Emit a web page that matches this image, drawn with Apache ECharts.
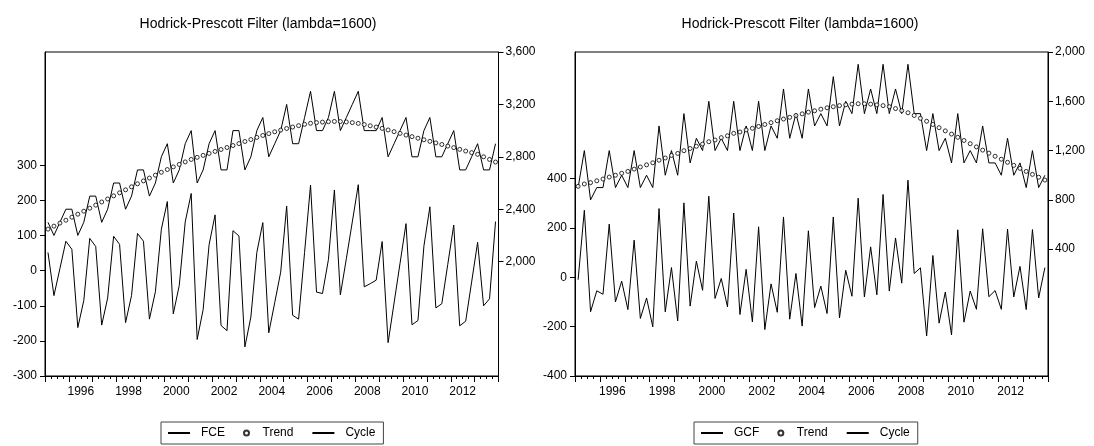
<!DOCTYPE html>
<html>
<head>
<meta charset="utf-8">
<script src="https://cdn.jsdelivr.net/npm/echarts@6/dist/echarts.min.js"></script>
<style>html,body{margin:0;padding:0;background:#fff}#c{width:1094px;height:446px}</style>
</head>
<body>
<div id="c"></div>
<script>
const periods = ["1995Q1","1995Q2","1995Q3","1995Q4","1996Q1","1996Q2","1996Q3","1996Q4","1997Q1","1997Q2","1997Q3","1997Q4","1998Q1","1998Q2","1998Q3","1998Q4","1999Q1","1999Q2","1999Q3","1999Q4","2000Q1","2000Q2","2000Q3","2000Q4","2001Q1","2001Q2","2001Q3","2001Q4","2002Q1","2002Q2","2002Q3","2002Q4","2003Q1","2003Q2","2003Q3","2003Q4","2004Q1","2004Q2","2004Q3","2004Q4","2005Q1","2005Q2","2005Q3","2005Q4","2006Q1","2006Q2","2006Q3","2006Q4","2007Q1","2007Q2","2007Q3","2007Q4","2008Q1","2008Q2","2008Q3","2008Q4","2009Q1","2009Q2","2009Q3","2009Q4","2010Q1","2010Q2","2010Q3","2010Q4","2011Q1","2011Q2","2011Q3","2011Q4","2012Q1","2012Q2","2012Q3","2012Q4","2013Q1","2013Q2","2013Q3","2013Q4"];

const fce = [2300,2200,2300,2400,2400,2200,2300,2500,2500,2300,
 2400,2600,2600,2400,2500,2700,2700,2500,2600,2800,
 2900,2600,2700,2900,3000,2600,2700,2900,3000,2700,
 2700,3000,3000,2700,2800,3000,3100,2800,2900,3000,
 3200,2900,2900,3100,3300,3000,3000,3100,3300,3000,
 3100,3200,3300,3000,3000,3000,3100,2800,2900,3000,
 3100,2800,2800,3000,3100,2800,2800,2900,3000,2700,
 2700,2800,2900,2700,2700,2900];
const fceTrend = [2248,2271,2294,2316,2339,2362,2385,2408,2431,2455,
 2478,2502,2525,2548,2571,2594,2616,2638,2660,2682,
 2703,2723,2742,2761,2780,2796,2811,2826,2841,2856,
 2871,2886,2901,2917,2932,2948,2963,2977,2991,3004,
 3016,3027,3038,3048,3056,3061,3065,3068,3070,3069,
 3066,3061,3055,3046,3037,3027,3017,3005,2992,2979,
 2966,2954,2942,2930,2918,2906,2894,2882,2870,2857,
 2844,2832,2819,2800,2780,2760];
const fceCycle = [52,-71,6,84,61,-162,-85,92,69,-155,
 -78,98,75,-148,-71,106,84,-138,-60,118,
 197,-123,-42,139,220,-196,-111,74,159,-156,
 -171,114,99,-217,-132,52,137,-177,-91,-4,
 184,-127,-138,52,244,-61,-65,32,230,-69,
 34,139,245,-46,-37,-27,83,-205,-92,21,
 134,-154,-142,70,182,-106,-94,18,130,-157,
 -144,-32,81,-100,-80,140];

const gcf = [900,1200,800,900,900,1200,900,1000,900,1200,
 900,1000,900,1400,1000,1200,1000,1500,1100,1300,
 1200,1600,1200,1300,1200,1600,1200,1400,1200,1600,
 1200,1400,1300,1700,1300,1500,1300,1700,1400,1500,
 1400,1800,1400,1600,1500,1900,1500,1700,1500,1900,
 1500,1700,1500,1900,1500,1500,1200,1500,1200,1300,
 1100,1500,1100,1200,1100,1400,1100,1100,1000,1300,
 1000,1100,900,1200,900,1000];
const gcfTrend = [910,929,940,955,969,985,1000,1016,1031,1050,
 1067,1084,1101,1122,1140,1161,1177,1199,1217,1235,
 1253,1272,1286,1305,1320,1340,1351,1368,1381,1396,
 1412,1427,1442,1456,1470,1485,1498,1512,1523,1536,
 1547,1556,1565,1572,1577,1580,1580,1577,1571,1565,
 1556,1541,1524,1507,1485,1462,1438,1412,1386,1360,
 1334,1308,1282,1256,1230,1204,1179,1154,1130,1105,
 1080,1056,1031,1007,984,961];
const gcfCycle = [-10,271,-140,-55,-69,215,-100,-16,-131,150,
 -167,-84,-201,278,-140,39,-177,301,-117,65,
 -53,328,-86,-5,-120,260,-151,32,-181,204,
 -212,-27,-142,244,-170,15,-198,188,-123,-36,
 -147,244,-165,28,-77,320,-80,123,-71,335,
 -56,159,-24,393,15,38,-238,88,-186,-60,
 -234,192,-182,-56,-130,196,-79,-54,-130,195,
 -80,44,-131,193,-84,39];

const yearLabels = [1996,1998,2000,2002,2004,2006,2008,2010,2012];
const fceCycleTicks = [-300,-200,-100,0,100,200,300];
const fceTicks = [2000,2400,2800,3200,3600];
const gcfCycleTicks = [-400,-200,0,200,400];
const gcfTicks = [400,800,1200,1600,2000];
const titleText = 'Hodrick-Prescott Filter (lambda=1600)';

const FONT = "'Liberation Sans', Arial, sans-serif";
function toX(p){ const y = +p.slice(0,4), q = +p.slice(5); return y + (q - 0.5) / 4; }
function pairs(vals){ return periods.map((p,i)=>[toX(p), vals[i]]); }
function fmt(v){ return Math.round(v).toLocaleString('en-US'); }

function xAxes(g){
  return [
    { gridIndex:g, type:'value', min:1995, max:2014, interval:1, position:'bottom',
      axisLine:{show:true, onZero:false, lineStyle:{color:'#000', width:1}},
      axisTick:{show:true, length:6, lineStyle:{color:'#000'}},
      minorTick:{show:true, splitNumber:4, length:3, lineStyle:{color:'#000'}},
      axisLabel:{show:false}, splitLine:{show:false}, minorSplitLine:{show:false} },
    { gridIndex:g, type:'value', min:1994.5, max:2013.5, interval:0.5, position:'bottom', offset:0,
      axisLine:{show:false, onZero:false}, axisTick:{show:false}, splitLine:{show:false},
      axisLabel:{show:true, margin:10, color:'#000', fontSize:12, fontFamily:FONT,
        showMinLabel:true, showMaxLabel:true,
        formatter:(v)=> yearLabels.indexOf(Math.round(v*2)/2) >= 0 ? String(Math.round(v)) : '' } }
  ];
}
function yAxis(g, pos, min, max, ticks){
  return { gridIndex:g, type:'value', position:pos, min:min, max:max,
    axisLine:{show:true, onZero:false, lineStyle:{color:'#000', width:1}},
    axisTick:{show:true, length:5, customValues:ticks, lineStyle:{color:'#000'}},
    axisLabel:{show:true, customValues:ticks, margin:pos === 'left' ? 8 : 7, color:'#000', fontSize:12, fontFamily:FONT, formatter:fmt},
    splitLine:{show:false} };
}
function lineSeries(name, xi, yi, vals){
  return { name:name, type:'line', xAxisIndex:xi, yAxisIndex:yi, data:pairs(vals),
    symbol:'none', lineStyle:{color:'#000', width:1}, itemStyle:{color:'#000'}, z:2, animation:false };
}
function trendSeries(xi, yi, vals){
  return { name:'Trend', type:'scatter', xAxisIndex:xi, yAxisIndex:yi, data:pairs(vals),
    symbol:'circle', symbolSize:4, itemStyle:{color:'#fff', borderColor:'#000', borderWidth:1}, z:3, animation:false };
}
const hideSym = {color:'rgba(0,0,0,0)', borderColor:'rgba(0,0,0,0)', borderWidth:0, opacity:0};
function legend(left, first){
  return { left:left, top:422, orient:'horizontal', selectedMode:false,
    padding:[5,8,5,6], borderColor:'#444', borderWidth:1, backgroundColor:'#fff',
    itemWidth:22, itemHeight:5, itemGap:18,
    textStyle:{fontSize:12, color:'#000', fontFamily:FONT},
    data:[ {name:first, itemStyle:hideSym, textStyle:{padding:[0,0,0,6]}},
           {name:'Trend'},
           {name:'Cycle', itemStyle:hideSym, textStyle:{padding:[0,0,0,6]}} ] };
}

const chart = echarts.init(document.getElementById('c'), null, {renderer:'canvas'});
chart.setOption({
  animation:false,
  backgroundColor:'#fff',
  title:[
    {text:titleText, left:253, top:12, textAlign:'center', textStyle:{fontSize:14, fontWeight:'normal', color:'#000', fontFamily:FONT}},
    {text:titleText, left:795, top:12, textAlign:'center', textStyle:{fontSize:14, fontWeight:'normal', color:'#000', fontFamily:FONT}}
  ],
  grid:[
    {left:45, top:52, width:453.5, height:324, show:true, borderColor:'#000', borderWidth:1, backgroundColor:'transparent'},
    {left:575, top:52, width:473, height:324, show:true, borderColor:'#000', borderWidth:1, backgroundColor:'transparent'}
  ],
  xAxis: xAxes(0).concat(xAxes(1)),
  yAxis:[
    yAxis(0,'left',-300,623,fceCycleTicks),
    yAxis(0,'right',1127,3600,fceTicks),
    yAxis(1,'left',-400,912,gcfCycleTicks),
    yAxis(1,'right',-629,2000,gcfTicks)
  ],
  legend:[ legend(161,'FCE'), legend(694,'GCF') ],
  series:[
    lineSeries('FCE',0,1,fce),
    trendSeries(0,1,fceTrend),
    lineSeries('Cycle',0,0,fceCycle),
    lineSeries('GCF',2,3,gcf),
    trendSeries(2,3,gcfTrend),
    lineSeries('Cycle',2,2,gcfCycle)
  ]
});
</script>
</body>
</html>
